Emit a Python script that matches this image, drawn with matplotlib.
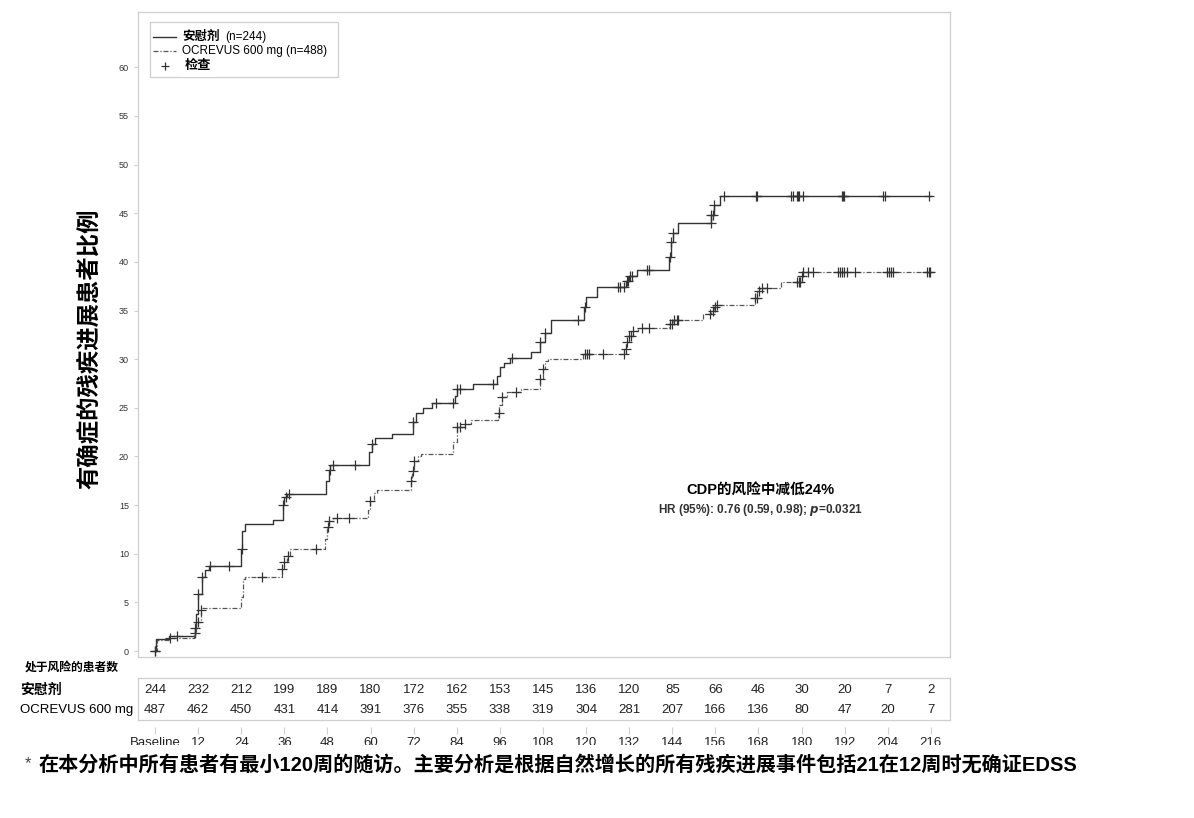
import matplotlib
matplotlib.use("Agg")
import matplotlib.pyplot as plt
import matplotlib.patches as patches
from matplotlib.lines import Line2D
import numpy as np

plt.rcParams['font.family'] = ['Liberation Sans', 'Noto Sans CJK SC', 'DejaVu Sans']

# Криві Каплана-Мейєра (тиждень, % пацієнтів з CDP)
placebo_weeks = [0, 0.2, 4, 11.0, 11.5, 12.1, 13.0, 14.0, 15.0, 23.8, 24.2, 25.0, 32.8, 35.6, 36.0, 36.8,
                 47.5, 48.3, 48.8, 59.6, 60.3, 61.2, 66.1, 71.8, 72.6, 74.7, 77.1, 83.5, 84.0, 88.6,
                 95.3, 96.0, 97.1, 98.8, 104.6, 107.3, 108.5, 110.1, 119.5, 120.1, 123.1, 131.1, 132.0,
                 134.2, 143.1, 143.6, 144.3, 145.5, 154.9, 155.6, 157.3, 216]
placebo_pct = [0, 1.2, 1.6, 2.4, 3.8, 5.9, 7.6, 8.3, 8.7, 10.5, 12.3, 13.1, 13.5, 15.0, 15.8, 16.1,
               17.5, 18.6, 19.1, 20.5, 21.3, 21.9, 22.3, 23.5, 24.5, 25.0, 25.5, 26.2, 26.9, 27.4,
               28.3, 29.2, 29.6, 30.1, 30.7, 31.8, 32.7, 34.0, 35.4, 36.4, 37.4, 38.0, 38.6,
               39.2, 40.5, 42.0, 43.0, 44.0, 44.8, 45.8, 46.8, 46.8]

ocr_weeks = [0, 0.5, 4.2, 10.8, 11.5, 12.7, 13.2, 23.9, 24.5, 25.0, 35.3, 35.9, 36.8, 37.5, 47.3, 48.0,
             48.5, 49.5, 59.2, 59.8, 61.0, 61.7, 71.2, 71.6, 72.1, 73.3, 74.0, 83.0, 84.0, 86.3, 88.1,
             95.4, 95.9, 96.5, 97.9, 102.0, 107.3, 108.1, 108.5, 109.5, 119.2, 130.6, 131.2, 132.0,
             133.0, 134.5, 143.2, 144.3, 152.6, 154.7, 155.5, 156.2, 167.0, 167.7, 168.4, 174.4,
             180.0, 180.4, 216]
ocr_pct = [0, 1.1, 1.3, 1.9, 3.0, 4.2, 4.4, 5.6, 7.4, 7.6, 8.4, 9.2, 9.8, 10.5, 11.5, 12.8,
           13.4, 13.7, 14.5, 15.4, 16.2, 16.6, 17.5, 18.5, 19.5, 20.1, 20.3, 21.5, 23.0, 23.3, 23.7,
           24.5, 25.3, 26.1, 26.6, 26.9, 28.0, 29.0, 29.8, 30.0, 30.5, 31.0, 31.8, 32.4,
           32.9, 33.2, 33.6, 34.0, 34.6, 35.0, 35.4, 35.6, 36.3, 37.0, 37.3, 37.9,
           38.5, 39.0, 39.0]

# Цензуровані спостереження (тижні)
placebo_cens = [0, 6, 11.1, 12.1, 13.0, 15.3, 20.7, 24.1, 35.7, 36.6, 37.4, 48.7, 49.6, 55.8, 60.3, 71.9,
                78.2, 83.0, 84.1, 84.9, 94.0, 99.3, 107.3, 108.5, 117.8, 119.7, 128.9, 129.5, 130.5,
                131.3, 131.7, 132.2, 132.8, 136.9, 137.5, 143.3, 143.6, 144.3, 154.7, 154.9, 155.2,
                155.6, 158.4, 167.2, 167.5, 177.0, 177.5, 178.6, 179.0, 179.4, 180.4, 191.3, 191.6,
                191.9, 202.8, 203.1, 215.4]
ocr_cens = [0, 4.2, 11.1, 12.1, 12.7, 29.9, 35.3, 35.9, 36.9, 44.8, 48.1, 48.5, 50.8, 54.1, 59.8, 71.4,
            71.9, 72.1, 84.0, 84.9, 86.3, 95.8, 96.5, 100.5, 107.3, 108.1, 119.7, 120.2, 120.8, 124.8,
            130.5, 131.0, 131.5, 132.0, 132.5, 133.0, 135.5, 137.6, 143.3, 144.0, 144.6, 145.2, 145.6,
            154.5, 155.2, 155.9, 156.4, 167.0, 167.6, 168.2, 169.0, 170.3, 178.7, 179.2, 179.6, 180.0,
            180.4, 181.8, 183.2, 190.0, 190.6, 191.2, 191.8, 192.6, 194.8, 203.7, 204.3, 204.9, 205.4,
            215.0, 215.4, 215.8]

# Таблиця пацієнтів під ризиком
risk_weeks = list(range(0, 217, 12))
risk_labels = ['Baseline'] + [str(w) for w in risk_weeks[1:]]
placebo_risk = [244, 232, 212, 199, 189, 180, 172, 162, 153, 145, 136, 120, 85, 66, 46, 30, 20, 7, 2]
ocr_risk = [487, 462, 450, 431, 414, 391, 376, 355, 338, 319, 304, 281, 207, 166, 136, 80, 47, 20, 7]


def step_value(weeks, pct, t):
    i = np.searchsorted(weeks, t, side='right') - 1
    return np.array(pct)[np.clip(i, 0, len(pct) - 1)]


fig = plt.figure(figsize=(11.94, 8.18), dpi=100)
frame_c = '#cfcfcf'
line_c = '#333333'

# Основний графік
ax = fig.add_axes([0.1156, 0.1968, 0.680, 0.7885])
ax.step(placebo_weeks, placebo_pct, where='post', color=line_c, lw=1.0)
ax.step(ocr_weeks, ocr_pct, where='post', color='#555555', lw=0.9, linestyle=(0, (4, 1.5, 1, 1.5)))
ax.plot(placebo_cens, step_value(placebo_weeks, placebo_pct, placebo_cens), '+',
        color=line_c, ms=7, mew=0.9)
ax.plot(ocr_cens, step_value(ocr_weeks, ocr_pct, ocr_cens), '+',
        color=line_c, ms=7, mew=0.9)

ax.set_xlim(-4.73, 221.3)
ax.set_ylim(-0.61, 65.68)
ax.set_yticks(range(0, 61, 5))
ax.set_xticks([])
ax.tick_params(axis='y', labelsize=6.5, labelcolor='#333333', color=frame_c, length=3, width=0.8)
for s in ax.spines.values():
    s.set_color(frame_c)
    s.set_linewidth(0.9)

ax.text(-0.060, 0.4775, '有确症的残疾进展患者比例', transform=ax.transAxes, rotation=90,
        fontsize=16.8, fontweight='heavy', family=['Noto Sans CJK SC'], ha='center', va='center')

# Легенда вручну
ax.add_patch(patches.Rectangle((0.0148, 0.899), 0.231, 0.0855, transform=ax.transAxes,
                               facecolor='white', edgecolor=frame_c, lw=0.9, zorder=5))
ax.add_line(Line2D([0.0185, 0.0468], [0.961, 0.961], transform=ax.transAxes, color=line_c, lw=1.0, zorder=6))
ax.add_line(Line2D([0.0185, 0.0468], [0.940, 0.940], transform=ax.transAxes, color='#555555', lw=0.9,
                   linestyle=(0, (4, 1.5, 1, 1.5)), zorder=6))
ax.plot([0.033], [0.917], '+', color=line_c, ms=6, mew=0.9, transform=ax.transAxes, zorder=6)
ax.text(0.054, 0.961, '安慰剂', transform=ax.transAxes, fontsize=9, fontweight='bold',
        va='center', zorder=6)
ax.text(0.1075, 0.961, '(n=244)', transform=ax.transAxes, fontsize=8.5, va='center', zorder=6)
ax.text(0.054, 0.940, 'OCREVUS 600 mg (n=488)', transform=ax.transAxes, fontsize=8.5,
        va='center', zorder=6)
ax.text(0.058, 0.916, '检查', transform=ax.transAxes, fontsize=9.5, fontweight='bold', va='center',
        zorder=7, bbox=dict(facecolor='white', edgecolor='none', pad=3))

# Підписи з HR
ax.text(0.766, 0.259, 'CDP的风险中减低24%', transform=ax.transAxes, fontsize=10.5,
        fontweight='bold', ha='center', va='center')
ax.text(0.766, 0.228, r'HR (95%): 0.76 (0.59, 0.98); $\mathbfit{p}$=0.0321', transform=ax.transAxes,
        fontsize=8.5, fontweight='bold', color='#333333', ha='center', va='center')

# Таблиця пацієнтів під ризиком
ax_t = fig.add_axes([0.1156, 0.1198, 0.680, 0.0513])
ax_t.set_xlim(ax.get_xlim())
ax_t.set_ylim(0, 1)
ax_t.set_xticks([])
ax_t.set_yticks([])
for s in ax_t.spines.values():
    s.set_color(frame_c)
    s.set_linewidth(0.9)
for w, n1, n2 in zip(risk_weeks, placebo_risk, ocr_risk):
    ax_t.text(w, 0.714, str(n1), fontsize=9.5, color='#222222', ha='center', va='center')
    ax_t.text(w, 0.238, str(n2), fontsize=9.5, color='#222222', ha='center', va='center')

sec = ax_t.secondary_xaxis(-0.17)
sec.spines['bottom'].set_visible(False)
sec.set_xticks(risk_weeks, risk_labels)
sec.tick_params(axis='x', labelsize=9.5, labelcolor='#222222', color=frame_c, length=5, width=0.8, pad=2)

fig.text(0.021, 0.1834, '处于风险的患者数', fontsize=8.5, fontweight='bold', va='center')
fig.text(0.0168, 0.1565, '安慰剂', fontsize=10, fontweight='bold', va='center')
fig.text(0.0168, 0.132, 'OCREVUS 600 mg', fontsize=9.5, va='center')

# Біла смуга та примітка
fig.patches.append(patches.Rectangle((0, 0.0), 1, 0.089, transform=fig.transFigure,
                                     facecolor='white', edgecolor='none', zorder=3))
fig.text(0.0205, 0.067, '*', fontsize=12, color='#444444', va='center', zorder=4)
fig.text(0.032, 0.0648, '在本分析中所有患者有最小120周的随访。主要分析是根据自然增长的所有残疾进展事件包括21在12周时无确证EDSS',
         fontsize=14.5, fontweight='bold', va='center', zorder=4)

fig.savefig('out.png', dpi=100)
